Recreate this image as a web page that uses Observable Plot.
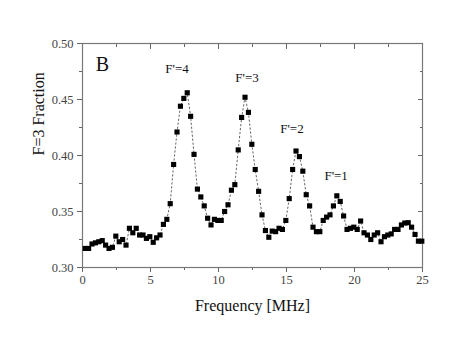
<!DOCTYPE html>
<html>
<head>
<meta charset="utf-8">
<script src="https://cdn.jsdelivr.net/npm/d3@7"></script>
<script src="https://cdn.jsdelivr.net/npm/@observablehq/plot@0.6"></script>
<style>
  html, body { margin: 0; padding: 0; background: #fff; }
</style>
</head>
<body>
<div id="chart"></div>
<script>
const freq = [
  0.2, 0.45, 0.7, 0.95, 1.2, 1.45, 1.7, 1.95, 2.2, 2.45,
  2.7, 2.95, 3.2, 3.45, 3.7, 3.95, 4.2, 4.45, 4.7, 4.95,
  5.2, 5.45, 5.7, 5.95, 6.2, 6.45, 6.7, 6.95, 7.2, 7.45,
  7.7, 7.95, 8.2, 8.45, 8.7, 8.95, 9.2, 9.45, 9.7, 9.95,
  10.2, 10.45, 10.7, 10.95, 11.2, 11.45, 11.7, 11.95, 12.2, 12.45,
  12.7, 12.95, 13.2, 13.45, 13.7, 13.95, 14.2, 14.45, 14.7, 14.95,
  15.2, 15.45, 15.7, 15.95, 16.2, 16.45, 16.7, 16.95, 17.2, 17.45,
  17.7, 17.95, 18.2, 18.45, 18.7, 18.95, 19.2, 19.45, 19.7, 19.95,
  20.2, 20.45, 20.7, 20.95, 21.2, 21.45, 21.7, 21.95, 22.2, 22.45,
  22.7, 22.95, 23.2, 23.45, 23.7, 23.95, 24.2, 24.45, 24.7, 24.95
];
const fraction = [
  0.317, 0.317, 0.321, 0.322, 0.323, 0.324, 0.320, 0.317, 0.318, 0.328,
  0.323, 0.325, 0.320, 0.335, 0.331, 0.335, 0.329, 0.329, 0.326, 0.3275,
  0.3225, 0.3265, 0.329, 0.3385, 0.343, 0.357, 0.392, 0.421, 0.444, 0.451,
  0.456, 0.435, 0.401, 0.370, 0.363, 0.355, 0.344, 0.338, 0.343, 0.342,
  0.342, 0.350, 0.356, 0.369, 0.374, 0.405, 0.434, 0.452, 0.4385, 0.410,
  0.3875, 0.368, 0.347, 0.333, 0.327, 0.3325, 0.332, 0.335, 0.334, 0.342,
  0.3615, 0.3875, 0.404, 0.399, 0.386, 0.365, 0.355, 0.336, 0.332, 0.332,
  0.342, 0.345, 0.347, 0.355, 0.364, 0.359, 0.346, 0.334, 0.335, 0.336,
  0.334, 0.3415, 0.331, 0.329, 0.325, 0.329, 0.331, 0.323, 0.3275, 0.329,
  0.330, 0.334, 0.334, 0.338, 0.3397, 0.340, 0.336, 0.3295, 0.3235, 0.3235
];
const xMajor = [0, 5, 10, 15, 20, 25];
const xMinor = [2.5, 7.5, 12.5, 17.5, 22.5];
const yMajor = [0.30, 0.35, 0.40, 0.45, 0.50];
const yMinor = [0.325, 0.375, 0.425, 0.475];
const peakLabels = ["F'=4", "F'=3", "F'=2", "F'=1"];
const peakLabelX = [6.95, 12.1, 15.4, 18.65];
const peakLabelY = [0.477, 0.469, 0.4235, 0.382];
const panelLabel = ["B"];
const xTitle = "Frequency [MHz]";
const yTitle = "F=3 Fraction";

const data = freq.map((f, i) => ({f, v: fraction[i]}));
const peaks = peakLabels.map((t, i) => ({t, x: peakLabelX[i], y: peakLabelY[i]}));

const chart = Plot.plot({
  width: 469,
  height: 342,
  marginLeft: 82,
  marginRight: 47,
  marginTop: 43,
  marginBottom: 75,
  style: {fontFamily: "'Liberation Serif', 'DejaVu Serif', serif", fontSize: "12px", background: "#fff", color: "#222"},
  x: {domain: [0, 25]},
  y: {domain: [0.30, 0.50]},
  marks: [
    Plot.axisX({ticks: xMajor, tickSize: 5, tickPadding: 3, tickFormat: d => String(d), label: null, stroke: "#666", fill: "#444", fontSize: 12.5}),
    Plot.axisX({ticks: xMinor, tickSize: 3, text: null, label: null, stroke: "#666"}),
    Plot.axisX({anchor: "top", ticks: xMajor, tickSize: -5, text: null, label: null, stroke: "#666"}),
    Plot.axisX({anchor: "top", ticks: xMinor, tickSize: -3, text: null, label: null, stroke: "#666"}),
    Plot.axisY({ticks: yMajor, tickSize: 5, tickPadding: 4, tickFormat: d3.format(".2f"), label: null, stroke: "#666", fill: "#444", fontSize: 12.5}),
    Plot.axisY({ticks: yMinor, tickSize: 3, text: null, label: null, stroke: "#666"}),
    Plot.axisY({anchor: "right", ticks: yMajor, tickSize: -5, text: null, label: null, stroke: "#666"}),
    Plot.axisY({anchor: "right", ticks: yMinor, tickSize: -3, text: null, label: null, stroke: "#666"}),
    Plot.frame({stroke: "#777", strokeWidth: 1.2}),
    Plot.line(data, {x: "f", y: "v", stroke: "#666", strokeWidth: 1, strokeDasharray: "1.5,2.5"}),
    Plot.dot(data, {x: "f", y: "v", symbol: "square", r: 2.9, fill: "#000", stroke: "none"}),
    Plot.text(peaks, {x: "x", y: "y", text: "t", fontSize: 13, fill: "#111"}),
    Plot.text(panelLabel, {frameAnchor: "top-left", dx: 20, dy: 21, fontSize: 20, fill: "#111", textAnchor: "middle", lineAnchor: "middle"}),
    Plot.text([xTitle], {frameAnchor: "bottom", dy: 43, fontSize: 16, fill: "#111"}),
    Plot.text([yTitle], {frameAnchor: "left", dx: -44, rotate: -90, fontSize: 16, fill: "#111"})
  ]
});
document.getElementById("chart").appendChild(chart);
</script>
</body>
</html>
